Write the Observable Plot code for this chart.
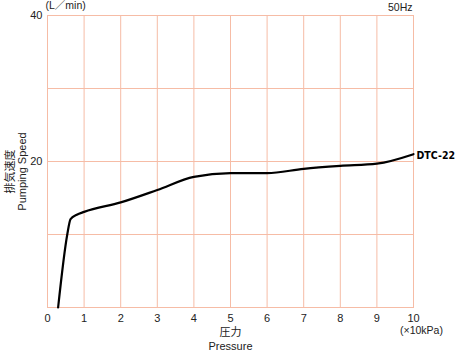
<!DOCTYPE html>
<html><head><meta charset="utf-8">
<script src="https://cdn.jsdelivr.net/npm/d3@7"></script>
<script src="https://cdn.jsdelivr.net/npm/@observablehq/plot@0.6"></script>
<style>body{margin:0;background:#fff;} svg{display:block;}</style>
</head><body><div id="chart"></div>
<script>
const pressure = [0.29, 0.54, 0.63, 0.8, 1, 2, 3, 4, 5, 6, 7, 8, 9, 10];
const speed    = [0,    10,   12.1, 12.7, 13.1, 14.4, 16.1, 17.9, 18.4, 18.4, 19.0, 19.4, 19.7, 21.0];
const xTicks = [0,1,2,3,4,5,6,7,8,9,10];
const yTicks = [20,40];
const xGrid = [1,2,3,4,5,6,7,8,9];
const yGrid = [10,20,30];
const seriesName = "DTC-22";
const data = pressure.map((p,i)=>({p, s: speed[i]}));
const grid = "#f6bca6";
const font = "Liberation Sans, Arial, 'Noto Sans CJK JP', sans-serif";
const chart = Plot.plot({
  width: 457, height: 354,
  marginLeft: 47, marginRight: 44, marginTop: 15, marginBottom: 47,
  style: {fontFamily: font, fontSize: "11px", color: "#222", background: "#fff"},
  x: {domain: [0,10], ticks: xTicks, tickSize: 0, tickPadding: 7, label: null},
  y: {domain: [0,40], ticks: yTicks, tickSize: 0, tickPadding: 5, label: null},
  marks: [
    Plot.ruleX(xGrid, {stroke: grid, strokeWidth: 1}),
    Plot.ruleY(yGrid, {stroke: grid, strokeWidth: 1}),
    Plot.frame({stroke: grid, strokeWidth: 1}),
    Plot.line(data, {x: "p", y: "s", stroke: "#000", strokeWidth: 2.2, curve: "monotone-x"}),
    Plot.text([seriesName], {x: 10, y: 21, dx: 3, dy: 1, textAnchor: "start", fontWeight: "bold", fontSize: 10.5, fill: "#000", fontFamily: "DejaVu Sans Condensed, DejaVu Sans, sans-serif", fontStretch: "condensed"}),
    Plot.text(["(L／min)"], {frameAnchor: "top-left", dx: -2, dy: -10, textAnchor: "start", lineAnchor: "middle", fontSize: 10.5}),
    Plot.text(["50Hz"], {frameAnchor: "top-right", dx: -1, dy: -8, textAnchor: "end", lineAnchor: "middle", fontSize: 10.5}),
    Plot.text(["(×10kPa)"], {frameAnchor: "bottom-right", dx: 8, dy: 19, textAnchor: "middle", lineAnchor: "top", fontSize: 10.5}),
    Plot.text(["圧力"], {frameAnchor: "bottom", dy: 21, lineAnchor: "top", fontSize: 11}),
    Plot.text(["Pressure"], {frameAnchor: "bottom", dy: 35, lineAnchor: "top", fontSize: 11}),
    Plot.text(["排気速度"], {frameAnchor: "left", dx: -37, dy: 10, rotate: -90, textAnchor: "middle", fontSize: 11}),
    Plot.text(["Pumping Speed"], {frameAnchor: "left", dx: -25, dy: 10, rotate: -90, textAnchor: "middle", fontSize: 11})
  ]
});
document.getElementById("chart").appendChild(chart);
</script></body></html>
